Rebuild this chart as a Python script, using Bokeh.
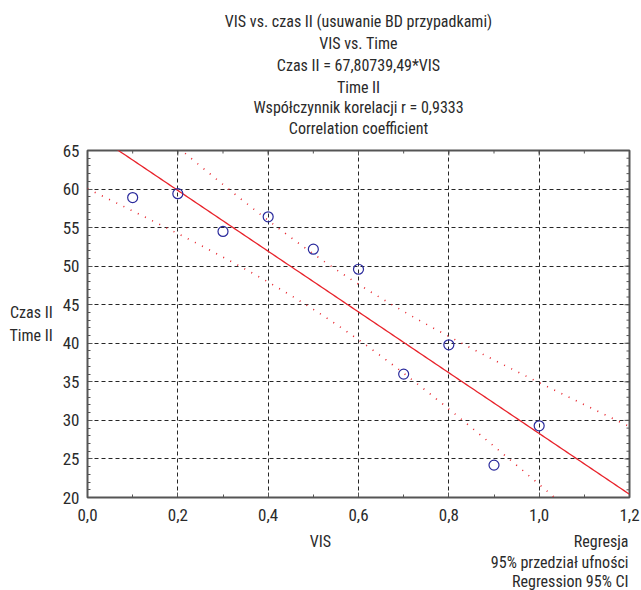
import numpy as np
from bokeh.plotting import figure
from bokeh.layouts import column
from bokeh.models import Label, LinearAxis, FixedTicker, Range1d, ColumnDataSource
from bokeh.embed import file_html
from bokeh.resources import INLINE

# ---- data ----
vis = [0.1, 0.2, 0.3, 0.4, 0.5, 0.6, 0.7, 0.8, 0.9, 1.0]
czas = [58.9, 59.4, 54.5, 56.4, 52.2, 49.6, 36.0, 39.8, 24.2, 29.3]
x_ticks = [0.0, 0.2, 0.4, 0.6, 0.8, 1.0, 1.2]
x_tick_labels = ["0,0", "0,2", "0,4", "0,6", "0,8", "1,0", "1,2"]
y_ticks = [20, 25, 30, 35, 40, 45, 50, 55, 60, 65]
y_tick_labels = ["20", "25", "30", "35", "40", "45", "50", "55", "60", "65"]
x_minor = [round(i * 0.1, 1) for i in range(13)]
y_minor = list(range(20, 66))
XMIN, XMAX = 0.0, 1.2
YMIN, YMAX = 20, 65
title_lines = [
    "VIS vs. czas II (usuwanie BD przypadkami)",
    "VIS vs. Time",
    "Czas II = 67,80739,49*VIS",
    "Time II",
    "Współczynnik korelacji r = 0,9333",
    "Correlation coefficient",
]
y_label = "Czas II\nTime II"
x_label = "VIS"
legend_lines = ["Regresja", "95% przedział ufności", "Regression 95% CI"]
t_crit = 2.306  # t(0.975, df=8)

FONT = "Liberation Sans Narrow, Roboto Condensed, Arial Narrow, sans-serif"
TXT = "#2a2a2a"
FS = "16px"
TICKC = "#555555"

# ---- regression and confidence band ----
xa = np.array(vis)
ya = np.array(czas)
b, a = np.polyfit(xa, ya, 1)
n = len(xa)
res = ya - (a + b * xa)
s = np.sqrt(np.sum(res ** 2) / (n - 2))
sxx = np.sum((xa - xa.mean()) ** 2)
xs = np.linspace(XMIN, XMAX, 200)
yfit = a + b * xs
half = t_crit * s * np.sqrt(1.0 / n + (xs - xa.mean()) ** 2 / sxx)

W = 641
H0, H1, H2 = 140, 390, 60
BL, BR = 87, 12  # frame left / right borders

def strip(h):
    f = figure(width=W, height=h, output_backend="svg", toolbar_location=None,
               min_border_left=BL, min_border_right=BR, min_border_top=0,
               min_border_bottom=0, x_axis_location=None, y_axis_location=None,
               x_range=Range1d(0, 1), y_range=Range1d(0, 1))
    f.title.visible = False
    f.outline_line_color = None
    f.grid.visible = False
    f.background_fill_color = "white"
    f.border_fill_color = "white"
    return f

def add_text(fig, x, y, text, align):
    fig.add_layout(Label(x=x, y=y, x_units="screen", y_units="screen", text=text,
                         text_align=align, text_baseline="middle", text_font=FONT,
                         text_font_size=FS, text_color=TXT))

# ---- top strip: title lines ----
p0 = strip(H0)
fw = W - BL - BR
for yy, line in zip([21, 43, 65, 87, 107, 128], title_lines):
    add_text(p0, fw / 2, H0 - yy, line, "center")

# ---- main plot ----
p = figure(width=W, height=H1, output_backend="svg", toolbar_location=None,
           x_range=Range1d(XMIN, XMAX), y_range=Range1d(YMIN, YMAX),
           min_border_left=BL, min_border_right=BR, min_border_top=10,
           min_border_bottom=33, x_axis_location=None, y_axis_location=None)
p.title.visible = False
p.outline_line_color = TICKC
p.outline_line_width = 2
p.background_fill_color = "white"
p.border_fill_color = "white"

xt = FixedTicker(ticks=x_ticks, minor_ticks=x_minor)
yt = FixedTicker(ticks=y_ticks, minor_ticks=y_minor)

def mk_axis(ticker, overrides, standoff):
    ax = LinearAxis(ticker=ticker)
    ax.axis_line_color = None
    ax.major_tick_in = 5
    ax.major_tick_out = 0
    ax.minor_tick_in = 3
    ax.minor_tick_out = 0
    ax.major_tick_line_color = TICKC
    ax.minor_tick_line_color = TICKC
    ax.major_label_overrides = overrides
    ax.major_label_text_font = FONT
    ax.major_label_text_font_size = "17px"
    ax.major_label_text_color = TXT
    ax.major_label_standoff = standoff
    return ax

xo = {v: l for v, l in zip(x_ticks, x_tick_labels)}
yo = {v: l for v, l in zip(y_ticks, y_tick_labels)}
xax = mk_axis(xt, xo, 11)
yax = mk_axis(yt, yo, 8)
yax.axis_label = y_label
yax.axis_label_orientation = "horizontal"
yax.axis_label_text_font = FONT
yax.axis_label_text_font_size = FS
yax.axis_label_text_font_style = "normal"
yax.axis_label_text_color = TXT
yax.axis_label_standoff = 7
p.add_layout(xax, "below")
p.add_layout(yax, "left")

for g in (p.xgrid, p.ygrid):
    g.grid_line_color = "black"
    g.grid_line_dash = "4 3"
    g.grid_line_alpha = 0.85
p.xgrid.ticker = xt
p.ygrid.ticker = yt

# inward tick marks on the top and right edges (half of each dash is clipped by the frame)
p.scatter(x_minor, [YMAX] * len(x_minor), marker="dash", angle=np.pi / 2, size=6,
          line_color=TICKC, line_width=1)
p.scatter(x_ticks, [YMAX] * len(x_ticks), marker="dash", angle=np.pi / 2, size=10,
          line_color=TICKC, line_width=1)
p.scatter([XMAX] * len(y_minor), y_minor, marker="dash", size=6,
          line_color=TICKC, line_width=1)
p.scatter([XMAX] * len(y_ticks), y_ticks, marker="dash", size=10,
          line_color=TICKC, line_width=1)

src = ColumnDataSource(dict(x=xs, y=yfit, lo=yfit - half, hi=yfit + half))
p.line("x", "y", source=src, line_color="#e8232b", line_width=1.3)
p.line("x", "lo", source=src, line_color="#e8232b", line_width=1.6, line_dash="1 7")
p.line("x", "hi", source=src, line_color="#e8232b", line_width=1.6, line_dash="1 7")
p.scatter(vis, czas, marker="circle", size=10, fill_color=None,
          line_color="#2a2a9c", line_width=1.2)

# ---- bottom strip: axis title and legend texts ----
p2 = strip(H2)
add_text(p2, 320 - BL, H2 - 11, x_label, "center")
for yy, line in zip([11, 32, 51], legend_lines):
    add_text(p2, fw - 1, H2 - yy, line, "right")

open("out.html", "w").write(file_html(column(p0, p, p2, spacing=0), INLINE))
